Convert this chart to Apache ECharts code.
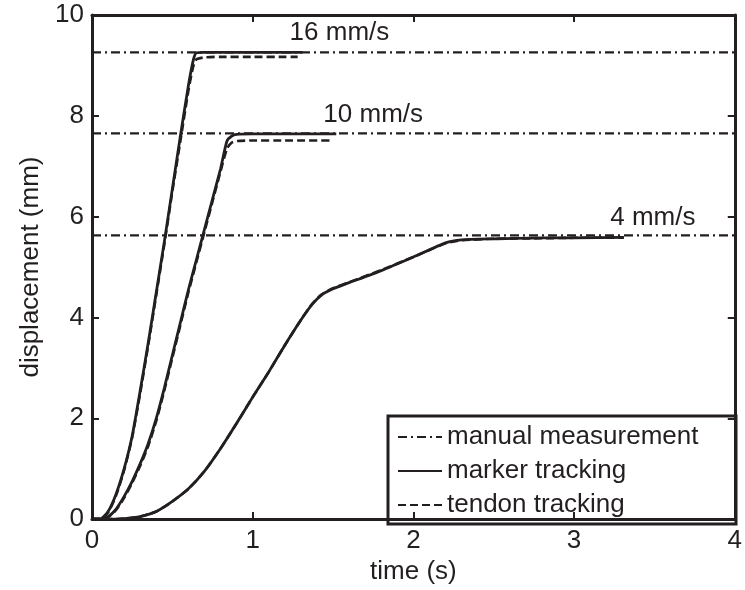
<!DOCTYPE html>
<html>
<head>
<meta charset="utf-8">
<script src="https://cdn.jsdelivr.net/npm/echarts@6/dist/echarts.min.js"></script>
<style>
html,body{margin:0;padding:0;background:#fff;}
#c{width:745px;height:590px;}
</style>
</head>
<body>
<div id="c"></div>
<script>
// ---- data ----
const manualLevels = [9.26, 7.65, 5.63];

const t16 = [0, 0.05, 0.1, 0.15, 0.2, 0.25, 0.3, 0.35, 0.4, 0.45, 0.5, 0.55, 0.6, 0.63, 0.65, 0.7, 0.8, 1.0, 1.2, 1.31];
const marker16 = [0, 0, 0.15, 0.5, 1.0, 1.65, 2.55, 3.5, 4.5, 5.5, 6.55, 7.6, 8.6, 9.1, 9.25, 9.26, 9.26, 9.26, 9.26, 9.26];
const tendonT16 = [0, 0.05, 0.1, 0.15, 0.2, 0.25, 0.3, 0.35, 0.4, 0.45, 0.5, 0.55, 0.6, 0.63, 0.65, 0.7, 0.8, 1.0, 1.2, 1.28];
const tendon16 = [0, 0, 0.13, 0.47, 0.97, 1.62, 2.5, 3.45, 4.45, 5.45, 6.5, 7.5, 8.5, 8.98, 9.12, 9.16, 9.17, 9.17, 9.17, 9.17];

const t10 = [0, 0.05, 0.1, 0.15, 0.2, 0.25, 0.3, 0.35, 0.4, 0.45, 0.5, 0.55, 0.6, 0.65, 0.7, 0.75, 0.8, 0.84, 0.87, 0.9, 1.0, 1.2, 1.52];
const marker10 = [0, 0, 0.05, 0.2, 0.45, 0.75, 1.1, 1.5, 2.0, 2.6, 3.25, 3.9, 4.55, 5.15, 5.75, 6.35, 6.95, 7.5, 7.6, 7.63, 7.64, 7.64, 7.64];
const tendonT10 = [0, 0.05, 0.1, 0.15, 0.2, 0.25, 0.3, 0.35, 0.4, 0.45, 0.5, 0.55, 0.6, 0.65, 0.7, 0.75, 0.8, 0.84, 0.87, 0.9, 1.0, 1.2, 1.50];
const tendon10 = [0, 0, 0.04, 0.18, 0.42, 0.72, 1.06, 1.45, 1.95, 2.55, 3.2, 3.85, 4.5, 5.1, 5.7, 6.3, 6.9, 7.35, 7.47, 7.5, 7.51, 7.51, 7.51];

const t4 = [0, 0.1, 0.2, 0.3, 0.4, 0.5, 0.6, 0.7, 0.8, 0.9, 1.0, 1.1, 1.2, 1.3, 1.37, 1.43, 1.5, 1.6, 1.8, 2.0, 2.2, 2.3, 2.5, 2.8, 3.0, 3.31];
const marker4 = [0, 0, 0.01, 0.05, 0.15, 0.35, 0.6, 0.95, 1.4, 1.9, 2.42, 2.92, 3.45, 3.95, 4.26, 4.45, 4.57, 4.69, 4.93, 5.2, 5.48, 5.54, 5.56, 5.58, 5.58, 5.59];
const tendon4 = [0, 0, 0.01, 0.05, 0.15, 0.35, 0.6, 0.95, 1.4, 1.9, 2.42, 2.92, 3.45, 3.95, 4.27, 4.46, 4.58, 4.7, 4.94, 5.2, 5.47, 5.53, 5.56, 5.57, 5.58, 5.58];

const speedLabels = ['16 mm/s', '10 mm/s', '4 mm/s'];
const speedLabelAnchors = [[1.54, 9.65], [1.75, 8.02], [3.49, 5.97]];

const xTicks = {min: 0, max: 4, interval: 1};
const yTicks = {min: 0, max: 10, interval: 2};
const legendNames = ['manual measurement', 'marker tracking', 'tendon tracking'];

// ---- chart ----
const INK = '#231f20';
const FONT = '"Liberation Sans", Arial, sans-serif';
const FS = 26;
const zip = (a, b) => a.map((v, i) => [v, b[i]]);

const chart = echarts.init(document.getElementById('c'), null, {renderer: 'canvas'});

const series = [];
manualLevels.forEach(lv => {
  series.push({
    name: legendNames[0], type: 'line', symbol: 'none', silent: true, z: 2,
    data: [[xTicks.min, lv], [xTicks.max, lv]],
    lineStyle: {color: INK, width: 2.3, type: [9, 4, 2, 4]},
    itemStyle: {color: INK}
  });
});
[[t16, marker16], [t10, marker10], [t4, marker4]].forEach(([t, v]) => {
  series.push({
    name: legendNames[1], type: 'line', symbol: 'none', silent: true, z: 4,
    data: zip(t, v), smooth: 0.2,
    lineStyle: {color: INK, width: 2.8, type: 'solid'},
    itemStyle: {color: INK}
  });
});
[[tendonT16, tendon16], [tendonT10, tendon10], [t4, tendon4]].forEach(([t, v]) => {
  series.push({
    name: legendNames[2], type: 'line', symbol: 'none', silent: true, z: 3,
    data: zip(t, v), smooth: 0.2,
    lineStyle: {color: INK, width: 2.6, type: [8, 4]},
    itemStyle: {color: INK}
  });
});
series.push({
  name: 'labels', type: 'scatter', symbolSize: 0, silent: true, z: 5,
  itemStyle: {opacity: 1},
  data: speedLabelAnchors.map((p, i) => ({value: p, name: speedLabels[i]})),
  label: {show: true, position: 'inside', formatter: p => p.name, color: INK, fontSize: FS, fontFamily: FONT}
});

const axisCommon = {
  type: 'value',
  axisLine: {show: true, onZero: false, lineStyle: {color: INK, width: 3}},
  axisTick: {show: true, inside: true, length: 7, lineStyle: {color: INK, width: 2}},
  splitLine: {show: false}
};

chart.setOption({
  animation: false,
  backgroundColor: '#ffffff',
  grid: {left: 92, top: 15, width: 644, height: 509, containLabel: false},
  xAxis: [
    Object.assign({}, axisCommon, xTicks, {
      position: 'bottom',
      axisLabel: {color: INK, fontSize: FS, fontFamily: FONT, margin: 9},
      name: 'time (s)', nameLocation: 'middle', nameGap: 38,
      nameTextStyle: {color: INK, fontSize: FS, fontFamily: FONT}
    }),
    Object.assign({}, axisCommon, xTicks, {position: 'top', axisLabel: {show: false}})
  ],
  yAxis: [
    Object.assign({}, axisCommon, yTicks, {
      position: 'left',
      axisLabel: {color: INK, fontSize: FS, fontFamily: FONT, margin: 8},
      name: 'displacement (mm)', nameLocation: 'middle', nameGap: 46, nameRotate: 90,
      nameTextStyle: {color: INK, fontSize: FS, fontFamily: FONT}
    }),
    Object.assign({}, axisCommon, yTicks, {position: 'right', axisLabel: {show: false}})
  ],
  legend: {
    data: legendNames,
    orient: 'vertical', left: 397, top: 423,
    itemWidth: 44, itemHeight: 14, itemGap: 6,
    padding: 0, selectedMode: false,
    itemStyle: {opacity: 0},
    textStyle: {color: INK, fontSize: FS, fontFamily: FONT, lineHeight: 28}
  },
  graphic: [{
    type: 'rect', silent: true, z: 10,
    shape: {x: 388, y: 416, width: 348, height: 108},
    style: {fill: null, stroke: INK, lineWidth: 3}
  }],
  series: series
});
</script>
</body>
</html>
